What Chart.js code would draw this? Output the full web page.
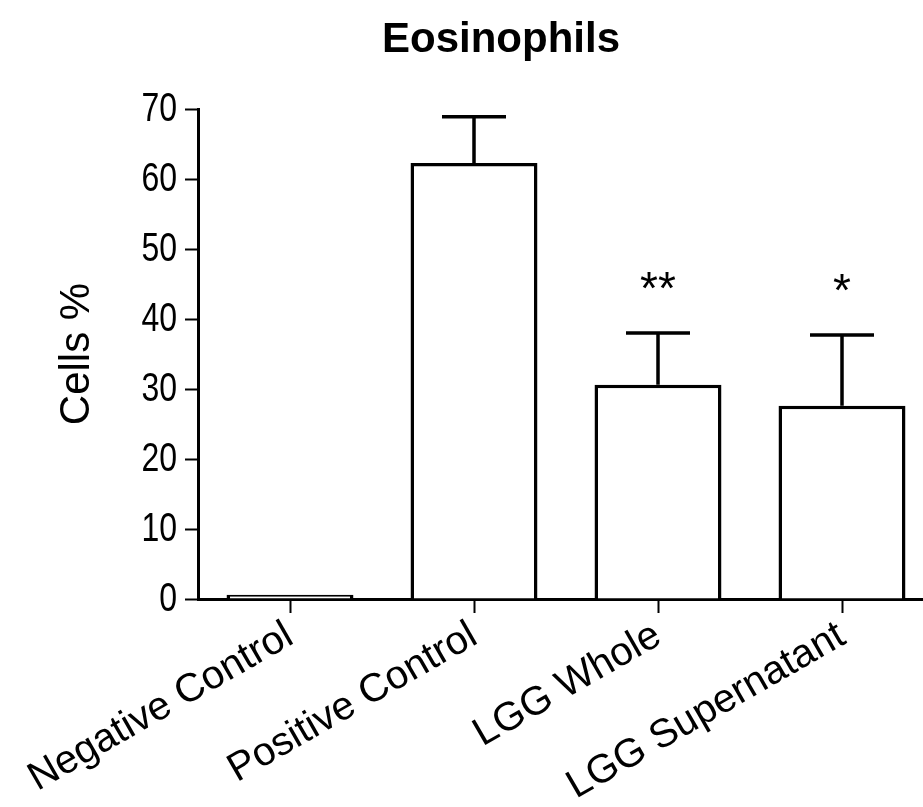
<!DOCTYPE html>
<html lang="en">
<head>
<meta charset="UTF-8">
<title>Eosinophils</title>
<script src="https://cdn.jsdelivr.net/npm/chart.js"></script>
<style>
    html, body { margin: 0; padding: 0; background: #fff; overflow: hidden; }
    #wrap { width: 940px; height: 807px; }
</style>
</head>
<body>
<div id="wrap">
    <canvas id="myChart" width="940" height="807"></canvas>
</div>
<script>
    // valores
    const categorias = ['Negative Control', 'Positive Control', 'LGG Whole', 'LGG Supernatant'];
    const medias = [0.6, 62.3, 30.6, 27.6];
    const erroSuperior = [0.6, 68.9, 38.0, 37.7];
    const significancia = ['', '', '**', '*'];
    const ticksY = [0, 10, 20, 30, 40, 50, 60, 70];

    const fonteNormal = '"Liberation Sans", Arial, sans-serif';

    // barras de erro + asteriscos
    const errorBars = {
        id: 'errorBars',
        afterDatasetsDraw(chart) {
            const ctx = chart.ctx;
            const meta = chart.getDatasetMeta(0);
            const y = chart.scales.y;
            ctx.save();
            ctx.strokeStyle = '#000';
            ctx.lineWidth = 3.5;
            ctx.fillStyle = '#000';
            for (let i = 0; i < medias.length; i++) {
                const bar = meta.data[i];
                const yBar = y.getPixelForValue(medias[i]);
                const yTop = y.getPixelForValue(erroSuperior[i]);
                if (erroSuperior[i] > medias[i]) {
                    ctx.beginPath();
                    ctx.moveTo(bar.x, yBar);
                    ctx.lineTo(bar.x, yTop);
                    ctx.moveTo(bar.x - 32, yTop);
                    ctx.lineTo(bar.x + 32, yTop);
                    ctx.stroke();
                }
                if (significancia[i]) {
                    ctx.font = '46px ' + fonteNormal;
                    ctx.textAlign = 'center';
                    ctx.textBaseline = 'middle';
                    ctx.fillText(significancia[i], bar.x, yTop - 42);
                }
            }
            ctx.restore();
        }
    };

    // rotulos do eixo y com fonte "estreita" (escala horizontal)
    const rotulosY = {
        id: 'rotulosY',
        afterDraw(chart) {
            const ctx = chart.ctx;
            const y = chart.scales.y;
            ctx.save();
            ctx.font = '41px ' + fonteNormal;
            ctx.fillStyle = '#000';
            ctx.textAlign = 'right';
            ctx.textBaseline = 'middle';
            ticksY.forEach(v => {
                ctx.save();
                ctx.translate(y.right - 21, y.getPixelForValue(v) + 1);
                ctx.scale(0.78, 1);
                ctx.fillText(String(v), 0, 0);
                ctx.restore();
            });
            ctx.restore();
        }
    };

    const tituloPlugin = {
        id: 'tituloPlugin',
        afterDraw(chart) {
            const ctx = chart.ctx;
            ctx.save();
            ctx.font = 'bold 42px ' + fonteNormal;
            ctx.fillStyle = '#000';
            ctx.textAlign = 'center';
            ctx.textBaseline = 'middle';
            ctx.fillText('Eosinophils', 501, 40);
            ctx.restore();
        }
    };

    var ctx1 = document.getElementById('myChart').getContext('2d');
    var myChart = new Chart(ctx1, {
        type: 'bar',
        data: {
            labels: categorias,
            datasets: [{
                label: 'Cells %',
                data: medias,
                backgroundColor: '#fff',
                borderColor: '#000',
                borderWidth: 3.5,
                barPercentage: 0.69,
                categoryPercentage: 1.0
            }]
        },
        options: {
            responsive: false,
            animation: false,
            layout: { padding: { top: 109, right: 6, bottom: 0, left: 0 } },
            plugins: {
                legend: { display: false },
                tooltip: { enabled: false },
                title: { display: false }
            },
            scales: {
                x: {
                    offset: true,
                    grid: {
                        offset: false,
                        drawOnChartArea: false,
                        drawTicks: true,
                        tickLength: 14,
                        tickWidth: 2,
                        tickColor: '#000'
                    },
                    border: { display: true, color: '#000', width: 3 },
                    ticks: {
                        color: '#000',
                        font: { family: fonteNormal, size: 40 },
                        minRotation: 30,
                        maxRotation: 30,
                        autoSkip: false,
                        padding: -1
                    },
                    afterFit(scale) {
                        scale.height = 208;
                        scale.paddingLeft = 0;
                        scale.paddingRight = 0;
                    }
                },
                y: {
                    min: 0,
                    max: 70,
                    afterBuildTicks(scale) {
                        scale.ticks = ticksY.map(v => ({ value: v }));
                    },
                    grid: {
                        drawOnChartArea: false,
                        drawTicks: true,
                        tickLength: 13,
                        tickWidth: 2,
                        tickColor: '#000'
                    },
                    border: { display: true, color: '#000', width: 3 },
                    ticks: { display: false },
                    title: {
                        display: true,
                        text: 'Cells %',
                        color: '#000',
                        font: { family: fonteNormal, size: 42 },
                        padding: { top: 52, bottom: 0 }
                    },
                    afterFit(scale) {
                        scale.width = 198;
                        scale.paddingTop = 0;
                        scale.paddingBottom = 0;
                    }
                }
            }
        },
        plugins: [errorBars, rotulosY, tituloPlugin]
    });
</script>
</body>
</html>
